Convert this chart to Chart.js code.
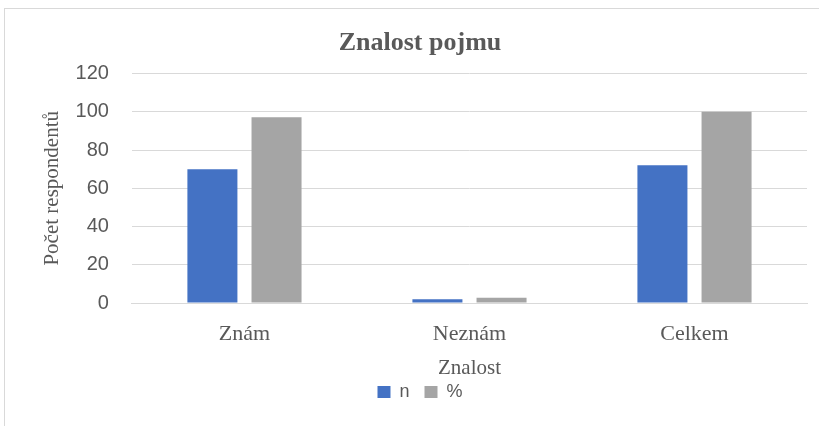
<!DOCTYPE html>
<html>
<head>
<meta charset="utf-8">
<script src="https://cdn.jsdelivr.net/npm/chart.js@4"></script>
<style>
  body { margin: 0; background: #fff; }
  #frame { position: absolute; left: 4px; top: 8px; width: 815px; height: 418px;
           border-top: 1px solid #d9d9d9; border-left: 1px solid #d9d9d9; }
  #wrap { position: absolute; left: 0; top: 0; width: 819px; height: 426px; }
</style>
</head>
<body>
<div id="frame"></div>
<div id="wrap"><canvas id="myChart" width="819" height="426"></canvas></div>
<script>
const categories = ['Znám', 'Neznám', 'Celkem'];
const nValues = [70, 2, 72];
const pctValues = [97.2, 2.8, 100];
const yTicks = [0, 20, 40, 60, 80, 100, 120];

const textGray = '#595959';
const gridGray = '#d9d9d9';

const ctx = document.getElementById('myChart');

new Chart(ctx, {
    type: 'bar',
    data: {
        labels: categories,
        datasets: [
            {
                label: 'n',
                data: nValues,
                backgroundColor: '#4472c4',
                borderWidth: 0,
                categoryPercentage: 0.57,
                barPercentage: 0.78
            },
            {
                label: '%',
                data: pctValues,
                backgroundColor: '#a5a5a5',
                borderWidth: 0,
                categoryPercentage: 0.57,
                barPercentage: 0.78
            }
        ]
    },
    options: {
        responsive: false,
        animation: false,
        layout: {
            padding: { left: 33, right: 12, top: 0, bottom: 15 }
        },
        scales: {
            x: {
                grid: { display: false, drawTicks: false },
                border: { display: true, color: gridGray, width: 1 },
                ticks: {
                    color: textGray,
                    padding: 18,
                    font: { family: 'Liberation Serif', size: 22 }
                },
                title: {
                    display: true,
                    text: 'Znalost',
                    color: textGray,
                    font: { family: 'Liberation Serif', size: 21 },
                    padding: { top: -10, bottom: -12.6 }
                }
            },
            y: {
                min: yTicks[0],
                max: yTicks[yTicks.length - 1],
                afterBuildTicks: function(axis) {
                    axis.ticks = yTicks.map(v => ({ value: v }));
                },
                grid: { color: gridGray, lineWidth: 1, drawTicks: false },
                border: { display: false },
                ticks: {
                    color: textGray,
                    padding: 23,
                    font: { family: 'Liberation Sans', size: 20 }
                },
                title: {
                    display: true,
                    text: 'Počet respondentů',
                    color: textGray,
                    font: { family: 'Liberation Serif', size: 21 },
                    padding: { top: 6.4, bottom: -12 }
                }
            }
        },
        plugins: {
            title: {
                display: true,
                text: 'Znalost pojmu',
                color: textGray,
                font: { family: 'Liberation Serif', size: 26, weight: 'bold' },
                padding: { top: 27.4, bottom: 15 }
            },
            legend: {
                position: 'bottom',
                labels: {
                    color: textGray,
                    boxWidth: 13,
                    boxHeight: 12,
                    padding: 15,
                    font: { family: 'Liberation Sans', size: 18 }
                }
            },
            tooltip: { enabled: false }
        }
    }
});
</script>
</body>
</html>
